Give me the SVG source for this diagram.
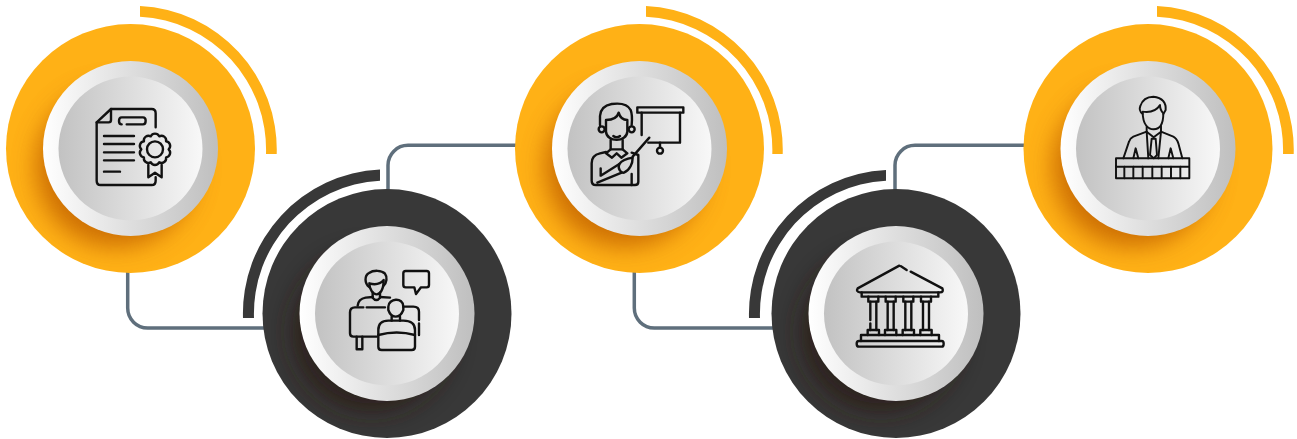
<svg xmlns="http://www.w3.org/2000/svg" width="1297" height="439" viewBox="0 0 1297 439">
<style>
.link{fill:none;stroke:#5f6f7c;stroke-width:3.5}
.y{fill:#ffb116}
.k{fill:#383838}
.sy{fill:#c46400;opacity:.85;filter:url(#blur)}
.sk{fill:#2a1a16;opacity:.8;filter:url(#blur)}
.ring{fill:url(#ringG)}
.face{fill:url(#faceG)}
.ic{fill:none;stroke:#111;stroke-width:7.2;stroke-linecap:round;stroke-linejoin:round}
</style>
<defs>
<linearGradient id="ringG" x1="0" x2="1" y1="0" y2="0"><stop offset="0" stop-color="#ffffff"/><stop offset=".5" stop-color="#dedede"/><stop offset="1" stop-color="#bfbfbf"/></linearGradient>
<linearGradient id="faceG" x1="0" x2="1" y1="0" y2="0"><stop offset="0" stop-color="#c2c2c2"/><stop offset="1" stop-color="#f8f8f8"/></linearGradient>
<filter id="blur" x="-30%" y="-30%" width="160%" height="160%"><feGaussianBlur stdDeviation="12"/></filter>
<clipPath id="c1"><circle cx="130.5" cy="148.5" r="124.5"/></clipPath>
<clipPath id="c2"><circle cx="387" cy="313.5" r="124.5"/></clipPath>
<clipPath id="c3"><circle cx="639.5" cy="148.5" r="124.5"/></clipPath>
<clipPath id="c4"><circle cx="896" cy="313.5" r="124.5"/></clipPath>
<clipPath id="c5"><circle cx="1148" cy="148.5" r="124.5"/></clipPath>
</defs>
<g id="connectors">
<path class="link" d="M127.7 270V308A20 20 0 0 0 147.700 328H266"/>
<path class="link" d="M388 192V165.300A20 20 0 0 1 408 145.300H518"/>
<path class="link" d="M634.3 270V308A20 20 0 0 0 654.300 328H775"/>
<path class="link" d="M895 192V165.300A20 20 0 0 1 915 145.300H1027"/>
</g>
<g id="node-1">
<path class="y" d="M140 6A143.7 143.7 0 0 1 276.7 154H266A133 133 0 0 0 140 16.7Z"/>
<circle class="y" cx="130.5" cy="148.5" r="124.5"/>
<g clip-path="url(#c1)"><circle class="sy" cx="116" cy="167" r="80"/></g>
<circle class="ring" cx="130.5" cy="148.5" r="87.5"/>
<circle class="face" cx="130.5" cy="148.5" r="72"/>
<g class="ic" transform="translate(80 90) scale(.3333)">
<path d="M227 112V70Q227 57 215 57H93L50 97V272Q50 285 62 285H215Q227 285 227 272V262"/>
<path d="M50 97H86Q93 97 93 90V57"/>
<path d="M125 103Q117 103 117 93Q117 82 125 82H189Q197 82 197 92Q197 103 189 103H140"/>
<path d="M72 138H162M72 162H162M72 187H162M72 211H162M72 245H120"/>
<path d="M237.700 139A14 14 0 0 1 258.200 153.900A14 14 0 0 1 266 178A14 14 0 0 1 258.200 202.100A14 14 0 0 1 237.700 217A14 14 0 0 1 212.300 217A14 14 0 0 1 191.800 202.100A14 14 0 0 1 184 178A14 14 0 0 1 191.800 153.900A14 14 0 0 1 212.300 139A14 14 0 0 1 237.700 139Z"/>
<circle cx="225" cy="178" r="24"/>
<path d="M205 225V262L225 248L245 262V225"/>
</g>
</g>
<g id="node-2">
<path class="k" d="M380 169.500A144 144 0 0 0 243 318H254A133 133 0 0 1 380 180.700Z"/>
<circle class="k" cx="387" cy="313.500" r="124.500"/>
<g clip-path="url(#c2)"><circle class="sk" cx="372" cy="332" r="80"/></g>
<circle class="ring" cx="387" cy="313.500" r="87.500"/>
<circle class="face" cx="387" cy="313.500" r="72"/>
<g class="ic" transform="translate(335 255) scale(.3333)">
<path d="M103 96C88 85 88 62 102 54C115 45 140 45 150 56C158 66 155 84 146 92"/>
<path d="M103 85C103 105 115 118 125 118C135 118 146 105 146 75C135 88 120 90 103 85Z"/>
<path d="M113 113V128Q124 142 135 128V113"/>
<path d="M68 152Q70 132 92 128L113 126M135 126L165 128"/>
<path d="M125 245H55Q45 245 45 235V172Q45 157 60 157H85M95 157H150M205 155H235Q252 155 252 170V195M252 205V240"/>
<path d="M65 245V283H82V245"/>
<path d="M160 155C160 130 205 125 205 155V165Q197 185 182 185Q167 185 160 165Z"/>
<path d="M170 185V197M195 185V197"/>
<path d="M130 225Q130 197 160 197H205Q240 197 240 225V275Q240 285 230 285H140Q130 285 130 275Z"/>
<path d="M130 240Q185 225 240 240"/>
<path d="M205 55Q205 48 212 48H275Q282 48 282 55V90Q282 97 275 97H258L243 117L238 97H212Q205 97 205 90Z"/>
</g>
</g>
<g id="node-3">
<path class="y" d="M646 6A143.700 143.700 0 0 1 782.700 154H772.300A133.300 133.300 0 0 0 646 16.700Z"/>
<circle class="y" cx="639.500" cy="148.500" r="124.500"/>
<g clip-path="url(#c3)"><circle class="sy" cx="625" cy="167" r="80"/></g>
<circle class="ring" cx="639.500" cy="148.500" r="87.500"/>
<circle class="face" cx="639.500" cy="148.500" r="72"/>
<g class="ic" transform="translate(580 90) scale(.3333)">
<path d="M172 52H310V68H172Z"/>
<path d="M185 68V135M300 68V158H205"/>
<path d="M240 158V172"/>
<circle cx="240" cy="182" r="9"/>
<path d="M60 105V78Q62 48 95 42Q140 36 152 60Q158 75 155 105"/>
<path d="M78 105V125C80 158 140 158 142 125V90Q122 90 116 68Q110 90 78 90Z"/>
<circle cx="65" cy="118" r="9"/>
<circle cx="155" cy="118" r="9"/>
<path d="M100 138Q110 146 120 138"/>
<path d="M92 150V178M128 150V178"/>
<path d="M92 178L78 190L96 203L110 190L124 203L142 190L128 178M92 178H128"/>
<path d="M78 186L60 190Q35 195 35 220V272Q35 285 48 285H165Q175 285 175 275V195L155 188"/>
<path d="M208 143L158 200"/>
<path d="M62 235V257L118 222"/>
<path d="M52 278L125 248"/>
<path d="M118 222C125 212 145 205 158 203C158 220 150 240 132 248C122 250 112 235 118 222Z"/>
<path d="M155 252V285"/>
</g>
</g>
<g id="node-4">
<path class="k" d="M886 170A144 144 0 0 0 749 318H760A133 133 0 0 1 886 180.700Z"/>
<circle class="k" cx="896" cy="313.500" r="124.500"/>
<g clip-path="url(#c4)"><circle class="sk" cx="881" cy="332" r="80"/></g>
<circle class="ring" cx="896" cy="313.500" r="87.500"/>
<circle class="face" cx="896" cy="313.500" r="72"/>
<g class="ic" transform="translate(845 255) scale(.3333)">
<path d="M168 34L185 45M197 50L292 100Q297 112 285 112H45Q32 110 38 100L163 32"/>
<path d="M50 112V125H280V112"/>
<path d="M70 125V140H100V125M122 125V140H152V125M175 125V140H205V125M228 125V140H258V125"/>
<path d="M76 140V195M76 205V225M94 140V225M128 140V225M146 140V225M181 140V225M199 140V225M234 140V225M252 140V225"/>
<path d="M68 240V225H102V240M120 240V225H154V240M173 240V225H207V240M226 240V225H260V240"/>
<path d="M48 258V240H282V258"/>
<path d="M42 258H290Q296 258 296 266Q296 275 290 275H42Q35 275 35 266Q35 258 42 258Z"/>
</g>
</g>
<g id="node-5">
<path class="y" d="M1157 6A143.700 143.700 0 0 1 1293.700 154H1283A133 133 0 0 0 1157 16.700Z"/>
<circle class="y" cx="1148" cy="148.500" r="124.500"/>
<g clip-path="url(#c5)"><circle class="sy" cx="1133" cy="167" r="80"/></g>
<circle class="ring" cx="1148" cy="148.500" r="87.500"/>
<circle class="face" cx="1148" cy="148.500" r="72"/>
<g class="ic" transform="translate(1105 90) scale(.3333)" style="stroke-width:5.8">
<path d="M113 72Q100 62 106 48Q115 20 145 20Q185 25 182 60L175 72"/>
<path d="M113 65C113 105 130 118 146 118C165 118 175 100 175 70Q165 60 165 45Q150 70 113 65Z"/>
<path d="M125 110V125M168 108V125"/>
<path d="M125 125L85 140Q75 145 72 155L55 205M168 125L205 140Q215 145 220 160L232 205"/>
<path d="M125 125L146 142L168 125M125 125L130 205M168 125L160 205"/>
<path d="M140 146L135 195L146 205L156 195L152 146Z"/>
<path d="M85 205L92 175L100 205M190 205L197 175L205 205"/>
<path d="M33 205H253V265H33ZM33 230H253"/>
<path d="M58 230V265M85 230V265M113 230V265M142 230V265M170 230V265M198 230V265M226 230V265"/>
</g>
</g>
</svg>
